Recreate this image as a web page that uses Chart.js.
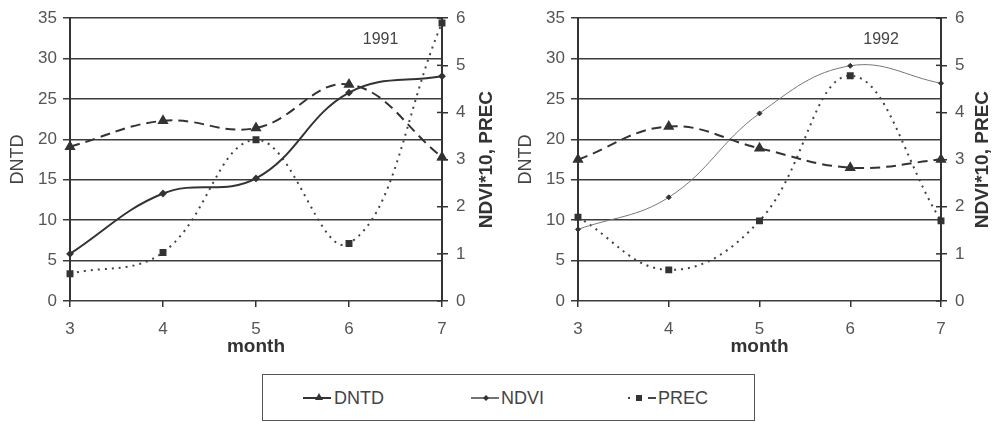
<!DOCTYPE html>
<html>
<head>
<meta charset="utf-8">
<script src="https://cdn.jsdelivr.net/npm/chart.js@4"></script>
<style>
  body { margin: 0; background: #fff; width: 1002px; height: 422px; overflow: hidden; position: relative;
         font-family: "Liberation Sans", Arial, sans-serif; }
  .wrap { position: absolute; top: 0; }
  #legend { position: absolute; left: 262px; top: 374px; width: 493px; height: 47px;
            border: 1px solid #555; box-sizing: border-box; }
  #legend svg { position: absolute; left: 0; top: 0; }
  #legend span { position: absolute; top: 12px; font-size: 18px; color: #444; line-height: 22px; }
</style>
</head>
<body>
<div class="wrap" style="left:0px"><canvas id="c1991" width="500" height="358"></canvas></div>
<div class="wrap" style="left:508px"><canvas id="c1992" width="494" height="358"></canvas></div>

<div id="legend">
  <svg width="493" height="47">
    <line x1="40" y1="23" x2="68" y2="23" stroke="#333" stroke-width="2"/>
    <polygon points="56,18 60,25 52,25" fill="#333"/>
    <line x1="208" y1="23" x2="236" y2="23" stroke="#444" stroke-width="1.5"/>
    <polygon points="223,20 226,23 223,26 220,23" fill="#333"/>
    <line x1="365" y1="23" x2="370" y2="23" stroke="#444" stroke-width="2" stroke-dasharray="2,4"/>
    <rect x="373" y="20" width="6" height="6" fill="#333"/>
    <line x1="385" y1="23" x2="393" y2="23" stroke="#444" stroke-width="2"/>
  </svg>
  <span style="left:71px">DNTD</span>
  <span style="left:238px">NDVI</span>
  <span style="left:395px">PREC</span>
</div>

<script>
const months = ['3', '4', '5', '6', '7'];

// 1991
const dntd1991 = [19.1, 22.3, 21.4, 26.8, 17.8];
const ndvi1991 = [1.0, 2.28, 2.6, 4.42, 4.77];   // NDVI*10, right axis
const prec1991 = [0.58, 1.03, 3.42, 1.22, 5.9];

// 1992
const dntd1992 = [17.5, 21.6, 18.9, 16.5, 17.5];
const ndvi1992 = [1.52, 2.2, 3.98, 4.99, 4.62];
const prec1992 = [1.78, 0.66, 1.7, 4.78, 1.7];

const leftTicks = { min: 0, max: 35, step: 5 };
const rightTicks = { min: 0, max: 6, step: 1 };

Chart.defaults.font.family = '"Liberation Sans", Arial, sans-serif';

// year label, right axis title (reads upward) and inner half of right-axis ticks
const extras = {
  id: 'extras',
  afterDraw(chart, args, o) {
    const ctx = chart.ctx;
    const area = chart.chartArea;
    const y2 = chart.scales.y2;

    ctx.save();
    ctx.strokeStyle = '#333';
    ctx.lineWidth = 1.5;
    y2.ticks.forEach(t => {
      const py = y2.getPixelForValue(t.value);
      ctx.beginPath();
      ctx.moveTo(area.right - 5, py);
      ctx.lineTo(area.right, py);
      ctx.stroke();
    });

    ctx.fillStyle = '#444';
    ctx.font = '16px "Liberation Sans", Arial, sans-serif';
    ctx.textAlign = 'center';
    ctx.textBaseline = 'middle';
    ctx.fillText(o.year, area.left + 0.835 * (area.right - area.left), chart.scales.y.getPixelForValue(32.4));

    ctx.translate(area.right + o.titleOffset, (area.top + area.bottom) / 2);
    ctx.rotate(-Math.PI / 2);
    ctx.fillStyle = '#333';
    ctx.font = 'bold 19px "Liberation Sans", Arial, sans-serif';
    ctx.fillText('NDVI*10, PREC', 0, 0);
    ctx.restore();
  }
};

function makeChart(id, year, dntd, ndvi, prec, rightWidth, titleOffset, ndviStyle) {
  return new Chart(document.getElementById(id), {
    type: 'line',
    data: {
      labels: months,
      datasets: [
        {
          label: 'DNTD', data: dntd, yAxisID: 'y',
          borderColor: '#333', borderWidth: 2, borderDash: [10, 6],
          pointStyle: 'triangle', pointRadius: 4.5, pointBackgroundColor: '#333', pointBorderColor: '#333',
          tension: 0.4
        },
        {
          label: 'NDVI', data: ndvi, yAxisID: 'y2',
          borderColor: ndviStyle.color, borderWidth: ndviStyle.width,
          pointStyle: 'rectRot', pointRadius: 2.5, pointBackgroundColor: '#333', pointBorderColor: '#333',
          tension: 0.4
        },
        {
          label: 'PREC', data: prec, yAxisID: 'y2',
          borderColor: '#444', borderWidth: 2, borderDash: [2, 5],
          pointStyle: 'rect', pointRadius: 3.5, pointBackgroundColor: '#333', pointBorderColor: '#333',
          tension: 0.4
        }
      ]
    },
    options: {
      responsive: false,
      animation: false,
      devicePixelRatio: 1,
      layout: { padding: { left: 7, right: 0, top: 16, bottom: 0 } },
      plugins: {
        legend: { display: false },
        tooltip: { enabled: false },
        extras: { year: year, titleOffset: titleOffset }
      },
      scales: {
        x: {
          type: 'category',
          offset: false,
          grid: { drawOnChartArea: false, tickLength: 6, color: '#333', lineWidth: 1.5 },
          border: { display: false },
          ticks: { color: '#555', font: { size: 17 }, padding: 12, maxRotation: 0 },
          title: { display: true, text: 'month', color: '#333', font: { size: 19, weight: 'bold' }, padding: 0 },
          afterFit: s => { s.height = 57; }
        },
        y: {
          position: 'left',
          min: leftTicks.min, max: leftTicks.max,
          ticks: { stepSize: leftTicks.step, color: '#555', font: { size: 17 }, padding: 6 },
          grid: { color: '#3c3c3c', lineWidth: 1.5, tickLength: 7 },
          border: { color: '#333', width: 2 },
          title: { display: true, text: 'DNTD', color: '#444', font: { size: 18 }, padding: 0 },
          afterFit: s => { s.width = 63; }
        },
        y2: {
          position: 'right',
          min: rightTicks.min, max: rightTicks.max,
          ticks: { stepSize: rightTicks.step, color: '#555', font: { size: 17 }, padding: 8 },
          grid: { drawOnChartArea: false, color: '#333', lineWidth: 1.5, tickLength: 6 },
          border: { color: '#333', width: 2 },
          afterFit: s => { s.width = rightWidth; }
        }
      }
    },
    plugins: [extras]
  });
}

makeChart('c1991', '1991', dntd1991, ndvi1991, prec1991, 58, 45, { color: '#333', width: 2 });
makeChart('c1992', '1992', dntd1992, ndvi1992, prec1992, 61, 42, { color: '#777', width: 1 });
</script>
</body>
</html>
